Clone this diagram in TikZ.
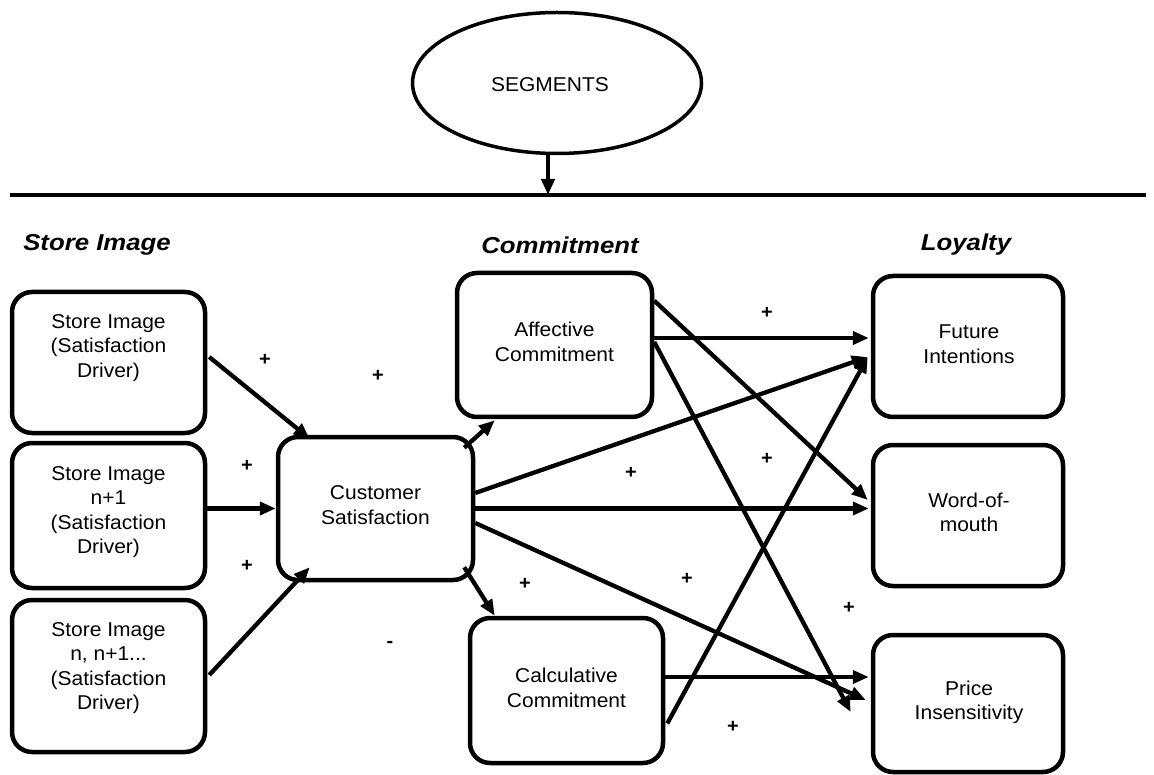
\documentclass[tikz,border=0pt]{standalone}
\usepackage{fontspec}
\setmainfont{Liberation Sans}[FakeStretch=1.05]
\newfontfamily\headfont{Liberation Sans}[FakeStretch=1.12]
\usetikzlibrary{arrows.meta,shapes.geometric,calc}

\begin{document}
\begin{tikzpicture}[x=1pt,y=-1pt,
  box/.style={draw, line width=4.5pt, rounded corners=20pt, inner sep=0pt},
  lbl/.style={align=center, font=\fontsize{20}{24.5}\selectfont, inner sep=0pt},
  head/.style={font=\headfont\bfseries\itshape\fontsize{23}{27}\selectfont, inner sep=0pt},
  sign/.style={font=\bfseries\fontsize{19}{19}\selectfont, inner sep=0pt},
  link/.style={line width=4.3pt, -{Triangle[length=16pt,width=13pt]}},
]
\useasboundingbox (0,0) rectangle (1154,775);

% moderating variable above the rule
\node[draw, ellipse, line width=3.5pt, minimum width=289pt, minimum height=141pt,
      inner sep=0pt] (seg) at (557,83) {};
\node[font=\fontsize{20}{24}\selectfont, inner sep=0pt] (segt) at (550,85) {SEGMENTS};
\coordinate (rl) at (10,195);
\coordinate (rr) at (1146,195);
\draw[line width=4.5pt] (rl) -- (rr);
\draw[link] ($(seg.south)+(-9,0)$) -- ($(seg.south |- rl)+(-9,0)$);

% column headings
\node[head] (hsi) at (97,245) {Store Image};
\node[head] (hc)  at (560,245) {Commitment};
\node[head] (hl)  at (966,245) {Loyalty};

% boxes
\node[box, minimum width=193pt, minimum height=141pt] (si1) at (108.5,362.5) {};
\node[box, minimum width=193pt, minimum height=145pt] (si2) at (108.5,515.5) {};
\node[box, minimum width=193pt, minimum height=152pt] (si3) at (108.5,676) {};
\node[box, minimum width=195pt, minimum height=143pt] (cs)  at (375.5,508.5) {};
\node[box, minimum width=195pt, minimum height=144pt] (aff) at (554.5,345) {};
\node[box, minimum width=193pt, minimum height=145pt] (calc) at (566.5,690.5) {};
\node[box, minimum width=190pt, minimum height=141pt] (fut) at (968,346.5) {};
\node[box, minimum width=190pt, minimum height=141pt] (wom) at (968,515.5) {};
\node[box, minimum width=190pt, minimum height=137pt] (price) at (968,703.5) {};

% box texts
\node[lbl] (si1t) at (108.5,348) {Store Image\\(Satisfaction\\Driver)};
\node[lbl] (si2t) at (108.5,512) {Store Image\\n+1\\(Satisfaction\\Driver)};
\node[lbl] (si3t) at (108.5,668) {Store Image\\n, n+1...\\(Satisfaction\\Driver)};
\node[lbl] (cst)  at (375.5,505) {Customer\\Satisfaction};
\node[lbl] (afft) at (554.5,342) {Affective\\Commitment};
\node[lbl] (calct) at (566.5,688) {Calculative\\Commitment};
\node[lbl] (futt) at (969,344) {Future\\Intentions};
\node[lbl] (womt) at (969,512.5) {Word-of-\\mouth};
\node[lbl] (pricet) at (969,702.5) {Price\\Insensitivity};

% store image drivers -> satisfaction
\draw[link] ($(si1.east)+(2,-5.5)$) -- ($(cs.north west)+(34,4)$);
\draw[link] ($(si2.east)+(0,-7)$) -- (cs.west);
\draw[link] ($(si3.east)+(2,-1)$) -- ($(cs.south west)+(34,-15)$);

% satisfaction -> commitment
\draw[link] ($(cs.north east)+(-11,13)$) -- ($(aff.south west)+(40,1)$);
\draw[link] ($(cs.south east)+(-11,-15)$) -- ($(calc.north west)+(27,0)$);

% satisfaction -> loyalty
\draw[link] ($(cs.east)+(0,-15.5)$) -- ($(fut.west)+(-3,10.5)$);
\draw[link] (cs.east) -- ($(wom.west |- cs.east)+(-2,0)$);
\draw[link] ($(cs.east)+(0,14.5)$) -- ($(price.west)+(-5,-3.5)$);

% affective commitment -> loyalty
\draw[link] ($(aff.east)+(0,-7)$) -- ($(fut.west |- aff.east)+(-2,-7)$);
\draw[link] ($(aff.north east)+(0,30)$) -- ($(wom.west)+(-3,-15.5)$);
\draw[link] ($(aff.east)+(0,-3)$) -- ($(price.west)+(-20,8.5)$);

% calculative commitment -> loyalty
\draw[link] ($(calc.east)+(2,33)$) -- ($(fut.west)+(-3,10.5)$);
\draw[link] ($(calc.east)+(0,-13.5)$) -- ($(price.west)+(-2,-26.5)$);

% path signs
\node[sign] (p1) at (265,360) {+};
\node[sign] (p2) at (378,376) {+};
\node[sign] (p3) at (247,466) {+};
\node[sign] (p4) at (247,566) {+};
\node[sign] (p5) at (767,313) {+};
\node[sign] (p6) at (767,459) {+};
\node[sign] (p7) at (631,473) {+};
\node[sign] (p8) at (525,584) {+};
\node[sign] (p9) at (687,579) {+};
\node[sign] (p10) at (849,608) {+};
\node[sign] (p11) at (733,727) {+};
\node[sign] (m1) at (390,644) {-};
\end{tikzpicture}
\end{document}
